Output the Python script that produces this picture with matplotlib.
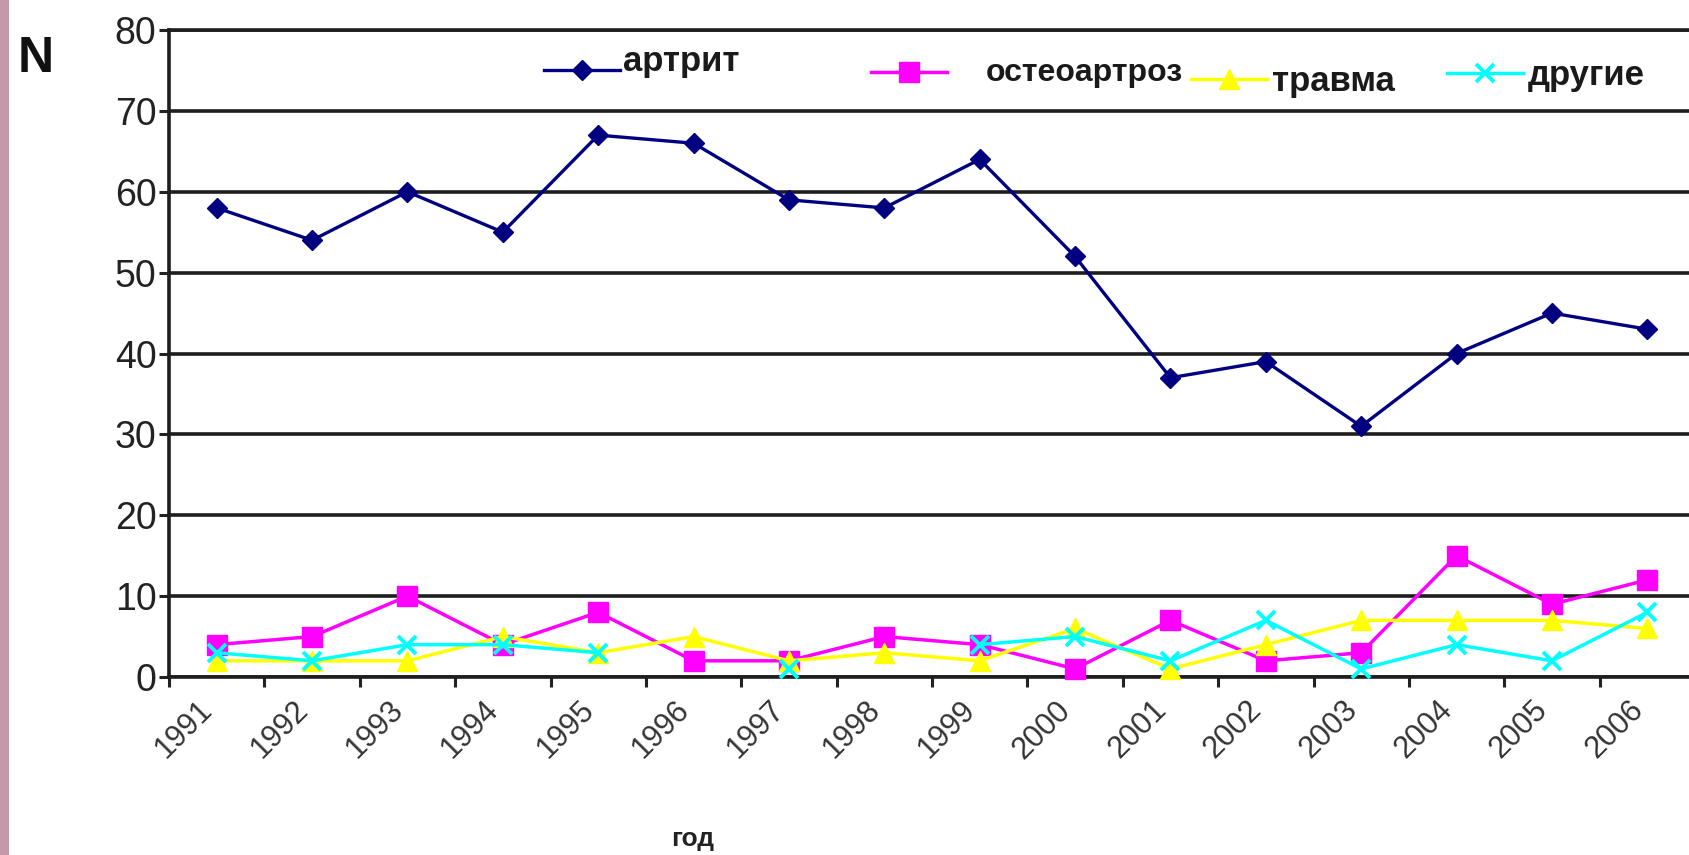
import numpy as np
import matplotlib
matplotlib.use("Agg")
import matplotlib.pyplot as plt
from matplotlib.patches import Rectangle
from matplotlib.transforms import ScaledTranslation

# Data: annual case counts by diagnosis
years = ["1991", "1992", "1993", "1994", "1995", "1996", "1997", "1998",
         "1999", "2000", "2001", "2002", "2003", "2004", "2005", "2006"]
arthritis = [58, 54, 60, 55, 67, 66, 59, 58, 64, 52, 37, 39, 31, 40, 45, 43]
osteoarthrosis = [4, 5, 10, 4, 8, 2, 2, 5, 4, 1, 7, 2, 3, 15, 9, 12]
trauma = [2, 2, 2, 5, 3, 5, 2, 3, 2, 6, 1, 4, 7, 7, 7, 6]
other = [3, 2, 4, 4, 3, np.nan, 1, np.nan, 4, 5, 2, 7, 1, 4, 2, 8]

series_names = ["артрит", "остеоартроз", "травма", "другие"]
y_ticks = [0, 10, 20, 30, 40, 50, 60, 70, 80]

plt.rcParams["font.family"] = ["Liberation Sans", "DejaVu Sans"]

W, H = 1690, 855
fig = plt.figure(figsize=(W / 100, H / 100), dpi=100)
fig.patch.set_facecolor("white")

# mauve strip along the left edge of the slide
fig.patches.append(Rectangle((0, 0), 9 / W, 1, transform=fig.transFigure,
                             facecolor="#c49aab", edgecolor="none"))

ax = fig.add_axes([169 / W, 1 - 677 / H, 1526 / W, (677 - 30) / H])
x = np.arange(len(years))

styles = [
    dict(color="#000080", marker="D", ms=10, lw=2.4),
    dict(color="#ff00ff", marker="s", ms=14, lw=2.5),
    dict(color="#ffff00", marker="^", ms=14, lw=2.5),
    dict(color="#00ffff", marker="x", ms=13, lw=2.5, mew=2.8),
]
handles = []
for data, st in zip([arthritis, osteoarthrosis, trauma, other], styles):
    (ln,) = ax.plot(x, np.array(data, dtype=float), color=st["color"],
                    lw=st["lw"], marker=st["marker"], ms=st["ms"],
                    mec=st["color"], mfc=st["color"],
                    mew=st.get("mew", 1.0), zorder=3, clip_on=False)
    handles.append(ln)

ax.set_xlim(-0.5, len(years) - 0.5)
ax.set_ylim(0, 80)
ax.set_yticks(y_ticks)
ax.set_yticklabels([str(v) for v in y_ticks], fontsize=27, color="#222222")
ax.tick_params(axis="y", length=7, width=2.2, pad=2, color="#222222")

# ticks between categories, labels under category centres
ax.set_xticks(np.arange(len(years) + 1) - 0.5)
ax.set_xticklabels([])
ax.tick_params(axis="x", which="major", length=7.5, width=2.2, color="#222222")
ax.set_xticks(x, minor=True)
ax.set_xticklabels(years, minor=True, rotation=45, ha="right", va="top",
                   fontsize=22, color="#333333")
ax.tick_params(axis="x", which="minor", length=0, pad=13)
shift = ScaledTranslation(2 / 100, 0, fig.dpi_scale_trans)
for lab in ax.get_xticklabels(minor=True):
    lab.set_transform(lab.get_transform() + shift)

ax.yaxis.grid(True, color="#1e1e1e", lw=2.6)
ax.set_axisbelow(True)
ax.spines["right"].set_visible(False)
for side in ["left", "bottom", "top"]:
    ax.spines[side].set_linewidth(2.6)
    ax.spines[side].set_color("#1e1e1e")

# legend entries placed individually across the top band
# (left edge px, centre y px, text pad, font size, text lift px)
leg_specs = [
    (544, 73, 0.08, 25, 12),
    (871, 75, 1.22, 23, 2),
    (1191, 82, 0.14, 25, 0),
    (1447, 76, 0.14, 25, 1),
]
for h, name, (lx, ly, pad, fs, lift) in zip(handles, series_names, leg_specs):
    fs_px = fs * 100 / 72
    leg = fig.legend([h], [name], loc="center left",
                     bbox_to_anchor=(lx / W, 1 - ly / H),
                     frameon=False, borderpad=0, borderaxespad=0,
                     handlelength=76 / fs_px, handletextpad=pad,
                     prop=dict(family="Liberation Sans", weight="bold", size=fs))
    for t in leg.get_texts():
        t.set_color("#1a1a1a")
        t.set_position((0, lift))

fig.text(36 / W, 1 - 59 / H, "N", ha="center", va="center",
         fontsize=36, weight="bold", color="#111111")
fig.text(693 / W, 1 - 839 / H, "год", ha="center", va="center",
         fontsize=19, weight="bold", color="#222222")

fig.savefig("out.png", dpi=100)
